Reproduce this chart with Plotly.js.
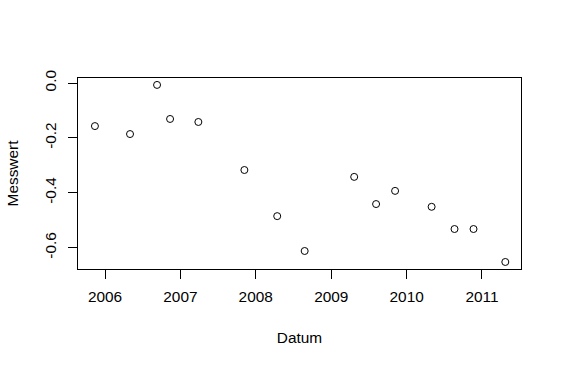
<!DOCTYPE html>
<html>
<head>
<meta charset="utf-8">
<script src="https://cdn.plot.ly/plotly-3.0.1.min.js"></script>
<style>html,body{margin:0;padding:0;background:#fff;}#chart{width:562px;height:367px;}</style>
</head>
<body>
<div id="chart"></div>
<script>
var datum = ["2005-11-13","2006-05-02","2006-09-10","2006-11-12","2007-03-29","2007-11-07","2008-04-14","2008-08-25","2009-04-22","2009-08-06","2009-11-06","2010-05-02","2010-08-21","2010-11-21","2011-04-24"];
var messwert = [-0.157,-0.186,-0.007,-0.131,-0.142,-0.317,-0.485,-0.612,-0.342,-0.441,-0.393,-0.451,-0.532,-0.532,-0.652];
var xTickVals = ["2006-01-01","2007-01-01","2008-01-01","2009-01-01","2010-01-01","2011-01-01"];
var xTickText = ["2006","2007","2008","2009","2010","2011"];
var yTickVals = [0,-0.2,-0.4,-0.6];
var yTickText = ["0.0","-0.2","-0.4","-0.6"];

var font = {family:"Liberation Sans, Arial, sans-serif", size:15.4, color:"#000"};
var trace = {
  x: datum, y: messwert, type:"scatter", mode:"markers",
  marker:{symbol:"circle-open", size:7, color:"#000", line:{width:1, color:"#000"}},
  hoverinfo:"none"
};
var layout = {
  width:562, height:367,
  margin:{l:78, r:41, t:78, b:98, pad:0},
  paper_bgcolor:"#fff", plot_bgcolor:"#fff",
  font: font,
  showlegend:false,
  xaxis:{
    type:"date", range:["2005-08-23","2011-07-09"],
    tickmode:"array", tickvals:xTickVals, ticktext:xTickText,
    ticks:"outside", ticklen:9, tickwidth:1, tickcolor:"#000",
    ticklabelstandoff:5,
    showline:true, linecolor:"#000", linewidth:1, mirror:true,
    showgrid:false, zeroline:false,
    tickfont:font,
    title:{text:"Datum", font:font, standoff:27}
  },
  yaxis:{
    range:[-0.6776,0.0182],
    tickmode:"array", tickvals:yTickVals, ticktext:yTickText,
    tickangle:-90,
    ticks:"outside", ticklen:9, tickwidth:1, tickcolor:"#000",
    ticklabelstandoff:6,
    showline:true, linecolor:"#000", linewidth:1, mirror:true,
    showgrid:false, zeroline:false,
    tickfont:font,
    title:{text:"Messwert", font:font, standoff:19}
  }
};
Plotly.newPlot("chart",[trace],layout,{staticPlot:true, displayModeBar:false});
</script>
</body>
</html>
